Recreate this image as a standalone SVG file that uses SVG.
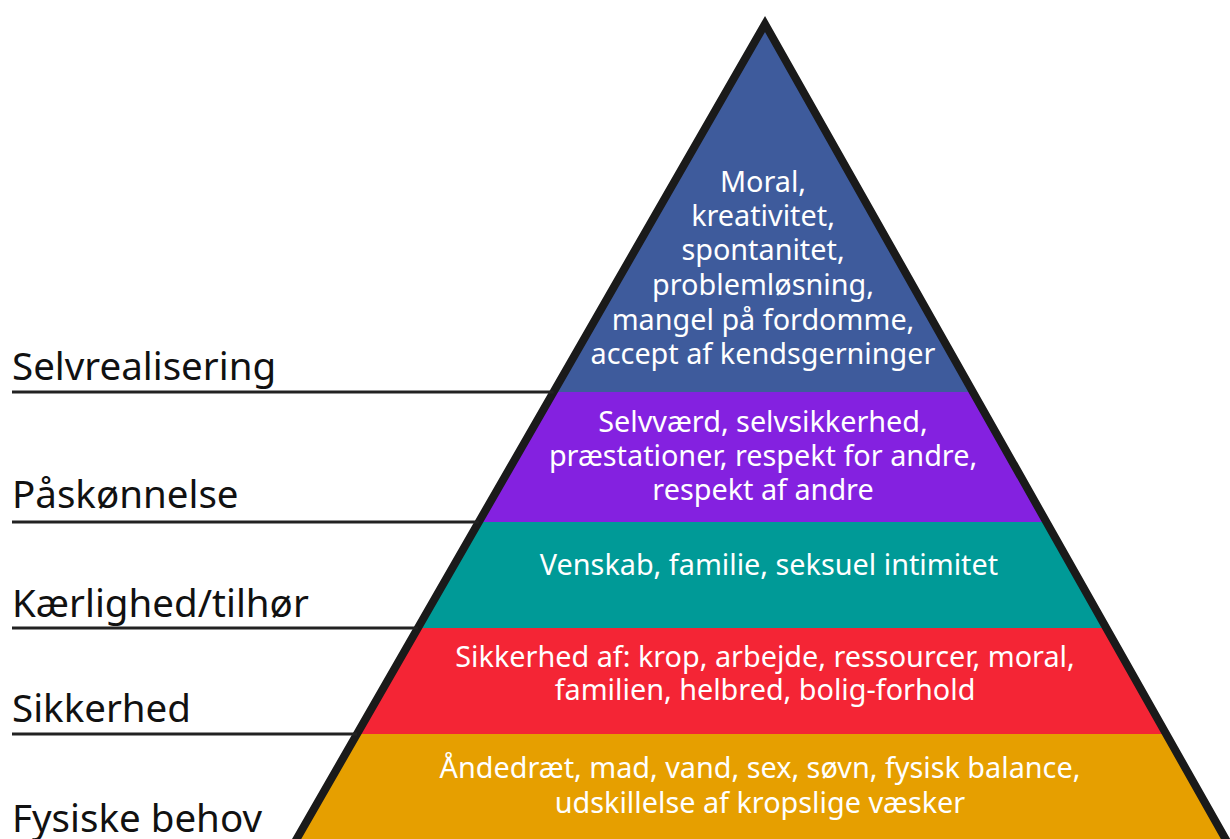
<svg xmlns="http://www.w3.org/2000/svg" width="1230" height="839" viewBox="0 0 1230 839">
<style>
.lbl{font-family:"Noto Sans","Open Sans",sans-serif;font-size:38.5px;fill:#111}
.in{font-family:"Noto Sans","Open Sans",sans-serif;font-size:28.8px;fill:#fff;text-anchor:middle}
.ln{stroke:#222;stroke-width:3;fill:none}
</style>
<defs>
<clipPath id="tri"><polygon points="765,24 290.3,850 1231.7,850"/></clipPath>
</defs>
<rect width="1230" height="839" fill="#fff"/>
<g id="pyramid">
<g clip-path="url(#tri)">
<rect id="band-selvrealisering" x="0" y="0" width="1230" height="392" fill="#3e5b9c"/>
<rect id="band-paaskoennelse" x="0" y="392" width="1230" height="130" fill="#8421e0"/>
<rect id="band-kaerlighed" x="0" y="522" width="1230" height="106" fill="#009a97"/>
<rect id="band-sikkerhed" x="0" y="628" width="1230" height="106" fill="#f42535"/>
<rect id="band-fysiske" x="0" y="734" width="1230" height="120" fill="#e69f00"/>
</g>
<polygon points="765,24 290.3,850 1231.7,850" fill="none" stroke="#1a1a1a" stroke-width="8" stroke-miterlimit="10"/>
</g>
<g id="connectors">
<line class="ln" x1="12" y1="392" x2="553.5" y2="392"/>
<line class="ln" x1="12" y1="522" x2="478.8" y2="522"/>
<line class="ln" x1="12" y1="628" x2="417.9" y2="628"/>
<line class="ln" x1="12" y1="734" x2="357" y2="734"/>
</g>
<g id="node-selvrealisering">
<text class="lbl" x="12" y="380">Selvrealisering</text>
<text class="in" x="763" y="192">Moral,</text>
<text class="in" x="763" y="226">kreativitet,</text>
<text class="in" x="763" y="260">spontanitet,</text>
<text class="in" x="763" y="295">problemløsning,</text>
<text class="in" x="763" y="330">mangel på fordomme,</text>
<text class="in" x="763" y="364">accept af kendsgerninger</text>
</g>
<g id="node-paaskoennelse">
<text class="lbl" x="12" y="508">Påskønnelse</text>
<text class="in" x="763" y="432">Selvværd, selvsikkerhed,</text>
<text class="in" x="763" y="466">præstationer, respekt for andre,</text>
<text class="in" x="763" y="500">respekt af andre</text>
</g>
<g id="node-kaerlighed">
<text class="lbl" x="12" y="617">Kærlighed/tilhør</text>
<text class="in" x="769" y="575">Venskab, familie, seksuel intimitet</text>
</g>
<g id="node-sikkerhed">
<text class="lbl" x="12" y="722">Sikkerhed</text>
<text class="in" x="765" y="667">Sikkerhed af: krop, arbejde, ressourcer, moral,</text>
<text class="in" x="765" y="700">familien, helbred, bolig-forhold</text>
</g>
<g id="node-fysiske">
<text class="lbl" x="12" y="832">Fysiske behov</text>
<text class="in" x="760" y="778">Åndedræt, mad, vand, sex, søvn, fysisk balance,</text>
<text class="in" x="760" y="813">udskillelse af kropslige væsker</text>
</g>
</svg>
